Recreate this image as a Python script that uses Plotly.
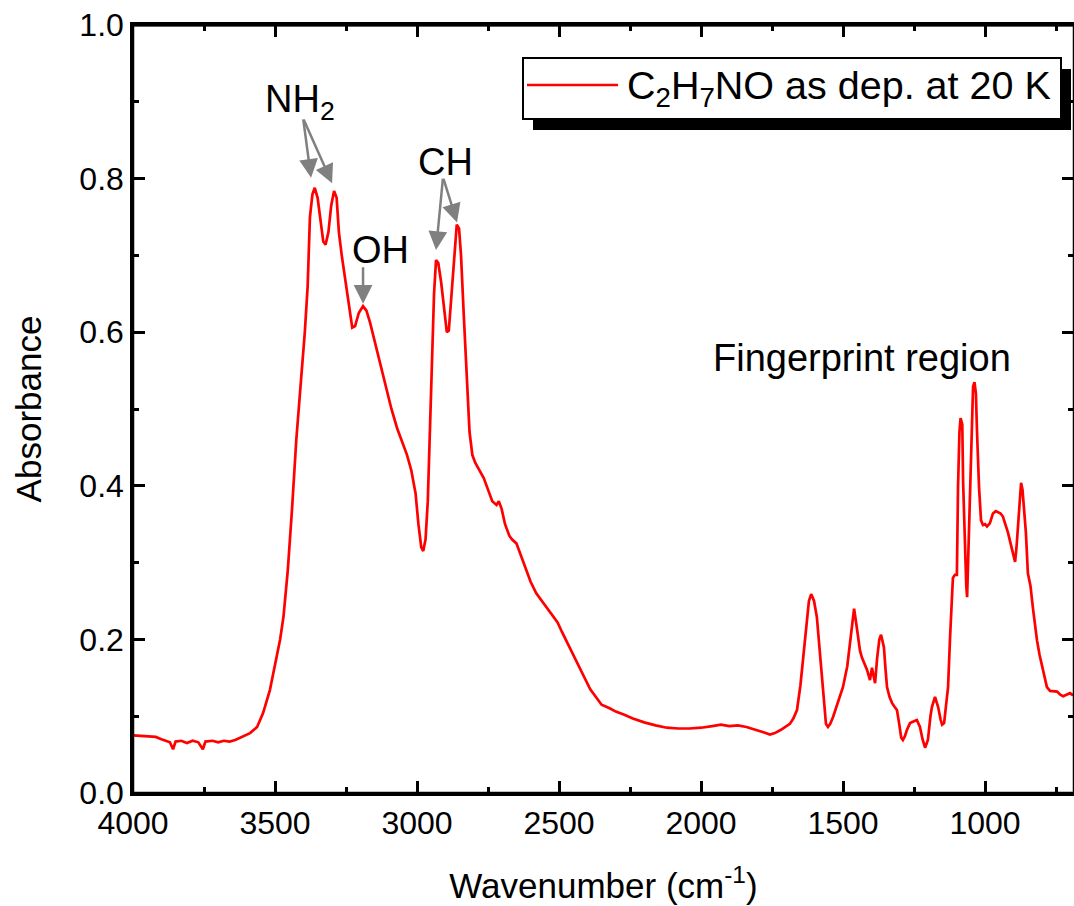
import plotly.graph_objects as go

# ---- data ----
wavenumber = [4000, 3960, 3920, 3900, 3880, 3870, 3859, 3850, 3830, 3810, 3790, 3770, 3754, 3745,
              3720, 3700, 3680, 3660, 3640, 3623, 3600, 3588, 3563, 3542, 3518, 3493, 3482, 3470,
              3455, 3440, 3425, 3410, 3395, 3385, 3377, 3368, 3360, 3350, 3340, 3330, 3322, 3312,
              3302, 3292, 3283, 3275, 3265, 3254, 3240, 3228, 3218, 3205, 3190, 3178, 3165, 3150,
              3130, 3110, 3090, 3070, 3050, 3035, 3020, 3005, 2995, 2985, 2978, 2970, 2962, 2955,
              2948, 2940, 2933, 2925, 2915, 2905, 2895, 2888, 2880, 2870, 2860, 2852, 2845, 2835,
              2825, 2815, 2805, 2795, 2780, 2765, 2750, 2735, 2720, 2712, 2702, 2690, 2675, 2665,
              2650, 2635, 2620, 2600, 2580, 2560, 2540, 2520, 2505, 2490, 2470, 2450, 2430, 2410,
              2390, 2370, 2350, 2320, 2300, 2270, 2240, 2200, 2160, 2120, 2080, 2040, 2000, 1960,
              1930, 1900, 1870, 1840, 1810, 1780, 1757, 1740, 1720, 1700, 1687, 1675, 1662, 1650,
              1641, 1630, 1620, 1612, 1602, 1592, 1583, 1574, 1566, 1560, 1553, 1545, 1535, 1520,
              1500, 1485, 1475, 1467, 1461, 1455, 1447, 1440, 1433, 1424, 1415, 1405, 1398, 1391,
              1387, 1380, 1372, 1366, 1360, 1356, 1350, 1345, 1336, 1327, 1318, 1310, 1303, 1295,
              1289, 1282, 1275, 1264, 1252, 1240, 1229, 1220, 1211, 1201, 1192, 1187, 1176, 1165,
              1156, 1151, 1144, 1135, 1130, 1123, 1116, 1113, 1106, 1099, 1095, 1090, 1086, 1080,
              1077, 1072, 1066, 1063, 1060, 1053, 1046, 1042, 1037, 1032, 1028, 1021, 1014, 1007,
              1000, 993, 983, 972, 962, 954, 945, 937, 928, 919, 910, 905, 898, 894, 889, 884,
              878, 873, 868, 863, 856, 849, 840, 831, 824, 817, 808, 799, 790, 782, 771, 758,
              746, 735, 725, 713, 701, 690]
absorbance = [0.075, 0.074, 0.073, 0.070, 0.068, 0.066, 0.057, 0.067, 0.068, 0.065, 0.068, 0.066, 0.057, 0.067,
              0.068, 0.066, 0.068, 0.067, 0.069, 0.072, 0.075, 0.078, 0.086, 0.104, 0.134, 0.182, 0.200, 0.230,
              0.290, 0.370, 0.460, 0.530, 0.600, 0.660, 0.750, 0.780, 0.788, 0.775, 0.745, 0.718, 0.714, 0.730,
              0.765, 0.784, 0.775, 0.730, 0.700, 0.672, 0.640, 0.606, 0.608, 0.625, 0.634, 0.628, 0.612, 0.590,
              0.560, 0.530, 0.500, 0.475, 0.455, 0.440, 0.420, 0.390, 0.350, 0.320, 0.315, 0.330, 0.380, 0.460,
              0.560, 0.650, 0.694, 0.690, 0.665, 0.630, 0.600, 0.602, 0.640, 0.700, 0.740, 0.735, 0.700, 0.620,
              0.540, 0.470, 0.440, 0.430, 0.420, 0.410, 0.395, 0.380, 0.375, 0.380, 0.370, 0.350, 0.335, 0.330,
              0.325, 0.310, 0.295, 0.275, 0.260, 0.250, 0.240, 0.230, 0.222, 0.210, 0.195, 0.180, 0.165, 0.150,
              0.135, 0.125, 0.115, 0.110, 0.106, 0.102, 0.097, 0.092, 0.088, 0.085, 0.084, 0.084, 0.085, 0.087,
              0.089, 0.087, 0.088, 0.086, 0.083, 0.079, 0.076, 0.078, 0.082, 0.087, 0.090, 0.097, 0.108, 0.140,
              0.173, 0.220, 0.250, 0.259, 0.250, 0.229, 0.190, 0.151, 0.110, 0.090, 0.086, 0.090, 0.099, 0.115,
              0.138, 0.165, 0.195, 0.225, 0.240, 0.225, 0.203, 0.185, 0.176, 0.168, 0.160, 0.147, 0.163, 0.150,
              0.143, 0.175, 0.200, 0.206, 0.198, 0.190, 0.160, 0.138, 0.125, 0.117, 0.112, 0.108, 0.092, 0.072,
              0.069, 0.074, 0.082, 0.091, 0.093, 0.095, 0.086, 0.070, 0.059, 0.069, 0.100, 0.112, 0.125, 0.112,
              0.095, 0.089, 0.091, 0.120, 0.138, 0.203, 0.260, 0.280, 0.284, 0.284, 0.398, 0.470, 0.488, 0.480,
              0.404, 0.330, 0.270, 0.255, 0.294, 0.390, 0.464, 0.529, 0.535, 0.520, 0.469, 0.398, 0.355, 0.349,
              0.350, 0.347, 0.351, 0.364, 0.367, 0.366, 0.364, 0.360, 0.350, 0.339, 0.325, 0.316, 0.305, 0.301, 0.320, 0.347,
              0.385, 0.404, 0.395, 0.370, 0.339, 0.286, 0.270, 0.240, 0.215, 0.199, 0.180, 0.164, 0.150, 0.138, 0.133, 0.132,
              0.132, 0.128, 0.126, 0.128, 0.130, 0.127]

series_name = "C<sub>2</sub>H<sub>7</sub>NO as dep. at 20 K"
x_ticks = [4000, 3500, 3000, 2500, 2000, 1500, 1000]
y_ticks = [0.0, 0.2, 0.4, 0.6, 0.8, 1.0]
y_tick_text = ["0.0", "0.2", "0.4", "0.6", "0.8", "1.0"]

# label text and anchor (wavenumber, absorbance)
labels = ["NH<sub>2</sub>", "OH", "CH", "Fingerprint region"]
label_x = [3412, 3127, 2901, 1433]
label_y = [0.900, 0.707, 0.822, 0.566]

# arrow tips (wavenumber, absorbance) and tail offsets (pixels)
arrow_x = [3373, 3299, 3190, 2933, 2859]
arrow_y = [0.801, 0.794, 0.637, 0.707, 0.743]
arrow_ax = [-8, -29, 0, 7, -14]
arrow_ay = [-60, -65, -38, -73, -45]

FONT = "Liberation Sans, Arial, sans-serif"

W, H = 1074, 906
L, R, T, B = 133, 1074, 25, 793   # plot box in window pixels


def px(xp):
    return (xp - L) / (R - L)


def py(yp):
    return (B - yp) / (B - T)


fig = go.Figure()
fig.add_trace(go.Scatter(x=wavenumber, y=absorbance, mode="lines", name=series_name,
                         line=dict(color="#ff0000", width=2.7), showlegend=False))

for t, xx, yy in zip(labels, label_x, label_y):
    fig.add_annotation(x=xx, y=yy, text=t, showarrow=False, xref="x", yref="y",
                       font=dict(family=FONT, size=38, color="black"))

for xx, yy, ax, ay in zip(arrow_x, arrow_y, arrow_ax, arrow_ay):
    fig.add_annotation(x=xx, y=yy, text="", showarrow=True, ax=ax, ay=ay,
                       arrowhead=2, arrowsize=1.5, arrowwidth=2.5, arrowcolor="#808080",
                       standoff=0, startstandoff=0)

# plot frame: top edge as a solid bar, then the full box
fig.add_shape(type="rect", xref="paper", yref="paper", x0=px(132), x1=1, y0=py(26.5), y1=py(23.5),
              fillcolor="black", line=dict(width=0), layer="above")
fig.add_shape(type="rect", xref="paper", yref="paper", x0=0, x1=1, y0=0, y1=1,
              line=dict(color="black", width=2.5), fillcolor="rgba(0,0,0,0)", layer="above")

# legend box (manual, with drop shadow)
fig.add_shape(type="rect", xref="paper", yref="paper", x0=px(533), x1=px(1071), y0=py(130), y1=py(69),
              fillcolor="black", line=dict(width=0), layer="above")
fig.add_shape(type="rect", xref="paper", yref="paper", x0=px(523), x1=px(1061), y0=py(119), y1=py(58),
              fillcolor="white", line=dict(color="black", width=2), layer="above")
fig.add_shape(type="line", xref="paper", yref="paper", x0=px(527), x1=px(618), y0=py(85), y1=py(85),
              line=dict(color="#ff0000", width=2.7), layer="above")
fig.add_annotation(xref="paper", yref="paper", x=px(625), y=py(88), xanchor="left", yanchor="middle",
                   text=series_name, showarrow=False, font=dict(family=FONT, size=39.5, color="black"))

axis_common = dict(showline=True, linecolor="black", linewidth=2.5, mirror="allticks",
                   ticks="inside", ticklen=12, tickwidth=2.5, tickcolor="black",
                   showgrid=False, zeroline=False,
                   tickfont=dict(family=FONT, size=32, color="black"))

x_end = 4000 - (R - L) * 3000 / (985 - 133)   # keep 1000 at window x=985
fig.update_xaxes(range=[4000, x_end], tickvals=x_ticks, ticktext=[str(v) for v in x_ticks],
                 minor=dict(dtick=250, ticks="inside", ticklen=6, tickwidth=2.5, tickcolor="black", showgrid=False),
                 title=dict(text="Wavenumber (cm<sup>-1</sup>)", font=dict(family=FONT, size=35, color="black"), standoff=34),
                 **axis_common)
fig.update_yaxes(range=[0, 1.0], tickvals=y_ticks, ticktext=y_tick_text,
                 minor=dict(dtick=0.1, ticks="inside", ticklen=6, tickwidth=2.5, tickcolor="black", showgrid=False),
                 title=dict(text="Absorbance", font=dict(family=FONT, size=35, color="black"), standoff=28),
                 **axis_common)

fig.update_layout(width=W, height=H, margin=dict(l=L, r=W - R, t=T, b=H - B, autoexpand=False),
                  paper_bgcolor="white", plot_bgcolor="white",
                  font=dict(family=FONT, color="black"))

# remove the default 8px page margin so the figure sits at the window corner
fig.write_html("out.html", config={"displayModeBar": False},
               post_script="document.body.style.margin='0';document.body.style.overflow='hidden';")
